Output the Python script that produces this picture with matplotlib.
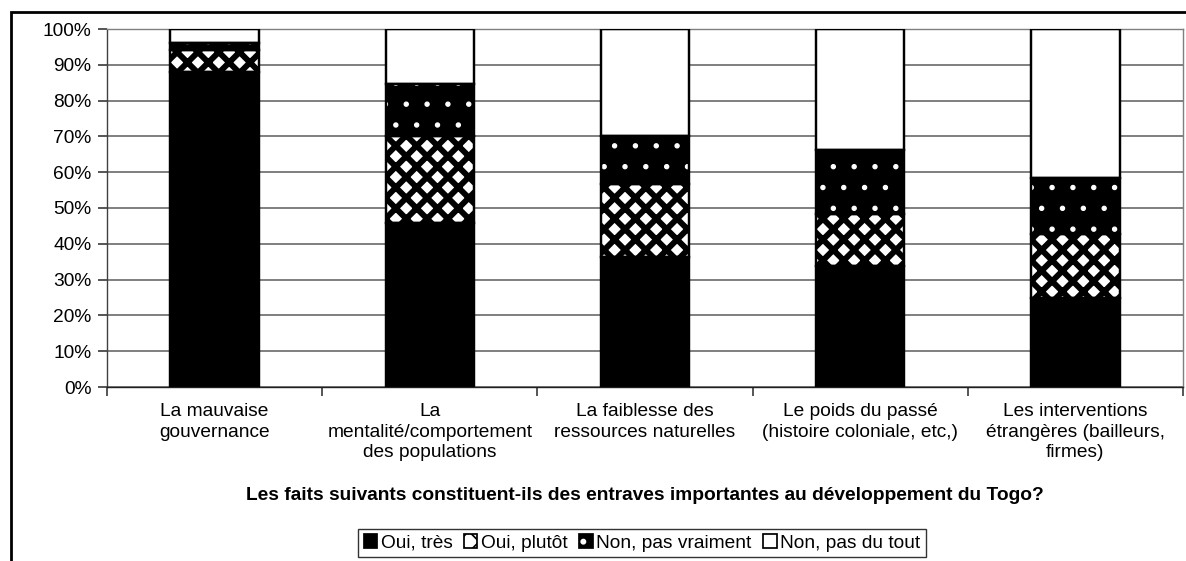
import matplotlib
matplotlib.use('Agg')
import matplotlib.pyplot as plt
from matplotlib.patches import Patch, Rectangle
from matplotlib.legend_handler import HandlerTuple
import numpy as np

# data (percent)
categories = ['La mauvaise\ngouvernance',
              'La\nmentalité/comportement\ndes populations',
              'La faiblesse des\nressources naturelles',
              'Le poids du passé\n(histoire coloniale, etc,)',
              'Les interventions\nétrangères (bailleurs,\nfirmes)']
oui_tres = [88.0, 45.8, 36.2, 33.9, 25.0]
oui_plutot = [6.0, 24.2, 20.6, 14.5, 17.8]
non_pas_vraiment = [2.2, 14.5, 13.3, 17.9, 15.7]
non_pas_du_tout = [3.8, 15.5, 29.9, 33.7, 41.5]
series_names = ['Oui, très', 'Oui, plutôt', 'Non, pas vraiment', 'Non, pas du tout']
yticks = np.arange(0, 101, 10)

plt.rcParams['font.family'] = ['Liberation Sans', 'DejaVu Sans']
FONTSIZE = 11

DPI = 125
fig = plt.figure(figsize=(1186 / DPI, 561 / DPI), dpi=DPI)
ax = fig.add_axes([107 / 1186, 1 - 387 / 561, (1183 - 107) / 1186, (387 - 29) / 561])

x = np.arange(len(categories))
width = 0.41

# (face, hatch, hatch colour, hatch linewidth)
styles = [('black', None, 'black', 1.0),
          ('white', 'xx', 'black', 3.4),
          ('black', '.', 'white', 0.7),
          ('white', None, 'black', 1.0)]
series = [oui_tres, oui_plutot, non_pas_vraiment, non_pas_du_tout]

bottom = np.zeros(len(categories))
handles = []
for vals, (fc, hatch, hc, hlw), name in zip(series, styles, series_names):
    vals = np.array(vals)
    with plt.rc_context({'hatch.linewidth': hlw}):
        bars = ax.bar(x, vals, width, bottom=bottom, color=fc, edgecolor=hc,
                      hatch=hatch, linewidth=0, zorder=2)
        for b in bars:
            if hasattr(b, 'set_hatch_linewidth'):
                b.set_hatch_linewidth(hlw)
    ax.bar(x, vals, width, bottom=bottom, facecolor='none', edgecolor='black',
           linewidth=1.4, zorder=3)
    with plt.rc_context({'hatch.linewidth': hlw}):
        h1 = Patch(facecolor=fc, edgecolor=hc, hatch=hatch, linewidth=0)
        if hasattr(h1, 'set_hatch_linewidth'):
            h1.set_hatch_linewidth(hlw)
    h2 = Patch(facecolor='none', edgecolor='black', linewidth=1.0)
    handles.append((h1, h2))
    bottom = bottom + vals

ax.set_xlim(-0.5, len(categories) - 0.5)
ax.set_ylim(0, 100)
ax.set_yticks(yticks)
ax.set_yticklabels(['%d%%' % v for v in yticks], fontsize=FONTSIZE)
ax.yaxis.grid(True, color='#6f6f6f', linewidth=1.0, zorder=0)
ax.set_axisbelow(True)

ax.set_xticks(x)
ax.set_xticklabels(categories, fontsize=FONTSIZE, linespacing=1.3)
ax.set_xticks(np.arange(len(categories) + 1) - 0.5, minor=True)
ax.tick_params(axis='x', which='major', length=0, pad=9)
ax.tick_params(axis='x', which='minor', length=5, color='#404040', width=1)
ax.tick_params(axis='y', length=5, color='#404040', width=1, pad=4)

for s in ['top', 'right']:
    ax.spines[s].set_color('#7f7f7f')
ax.spines['left'].set_color('#404040')
ax.spines['bottom'].set_color('#202020')

ax.set_xlabel('Les faits suivants constituent-ils des entraves importantes au développement du Togo?',
              fontsize=FONTSIZE, fontweight='bold', labelpad=15)

leg = fig.legend(handles, series_names, loc='center',
                 bbox_to_anchor=(642 / 1186, 1 - 543 / 561), ncol=4,
                 handler_map={tuple: HandlerTuple(ndivide=1)},
                 fontsize=FONTSIZE, frameon=True, fancybox=False,
                 handlelength=0.7, handleheight=0.7, handletextpad=0.2,
                 columnspacing=0.6, borderpad=0.3)
leg.get_frame().set_edgecolor('black')
leg.get_frame().set_linewidth(0.8)

# outer chart frame (cut off at right and bottom)
fig.patches.append(Rectangle((11 / 1186, -0.1), 1.2, 1 - 12 / 561 + 0.1,
                             transform=fig.transFigure, fill=False,
                             edgecolor='black', linewidth=1.6))

fig.savefig('out.png', dpi=DPI)
